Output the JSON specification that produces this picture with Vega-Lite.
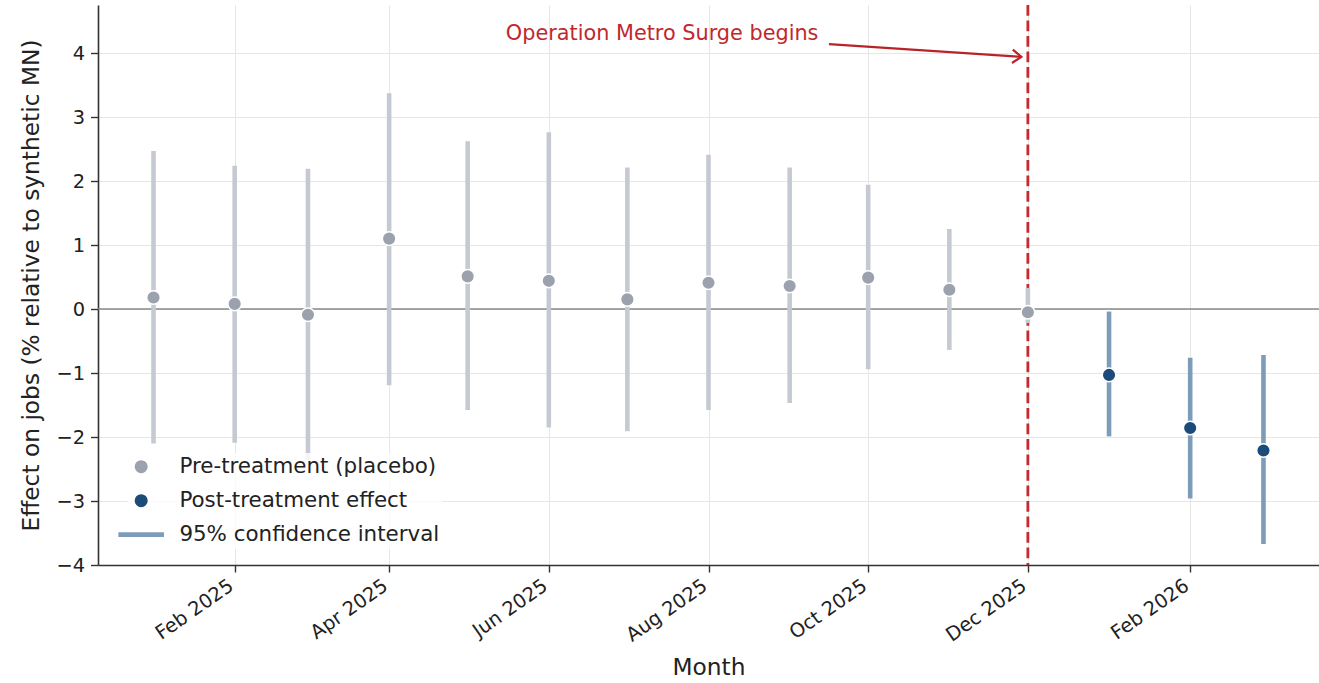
{
  "$schema": "https://vega.github.io/schema/vega-lite/v6.json",
  "autosize": {"type": "none"},
  "padding": {"left": 98, "top": 5, "right": 0, "bottom": 118},
  "width": 1221,
  "height": 560,
  "background": "white",
  "config": {
    "font": "DejaVu Sans",
    "view": {"stroke": null},
    "axis": {
      "labelFont": "DejaVu Sans",
      "titleFont": "DejaVu Sans",
      "labelColor": "#222222",
      "titleColor": "#222222",
      "titleFontWeight": "normal",
      "labelFontSize": 19.4,
      "titleFontSize": 23.3,
      "domainColor": "#333333",
      "domainWidth": 1.6,
      "tickColor": "#333333",
      "tickWidth": 1.4,
      "tickSize": 7,
      "gridColor": "#e6e6e6",
      "gridWidth": 1
    },
    "legend": {
      "orient": "none",
      "legendX": 29.5,
      "legendY": 448,
      "padding": 3,
      "fillColor": "rgba(255,255,255,0.8)",
      "labelFont": "DejaVu Sans",
      "labelFontSize": 21.4,
      "labelColor": "#222222",
      "labelLimit": 500,
      "symbolSize": 170,
      "symbolStrokeWidth": 0,
      "labelOffset": 27.5,
      "rowPadding": 11
    }
  },
  "datasets": {
    "effects": [
      {"month": "2025-01-01", "est": 0.18, "lo": -2.1, "hi": 2.47, "series": "Pre-treatment (placebo)"},
      {"month": "2025-02-01", "est": 0.08, "lo": -2.09, "hi": 2.24, "series": "Pre-treatment (placebo)"},
      {"month": "2025-03-01", "est": -0.09, "lo": -2.35, "hi": 2.19, "series": "Pre-treatment (placebo)"},
      {"month": "2025-04-01", "est": 1.1, "lo": -1.19, "hi": 3.37, "series": "Pre-treatment (placebo)"},
      {"month": "2025-05-01", "est": 0.51, "lo": -1.58, "hi": 2.62, "series": "Pre-treatment (placebo)"},
      {"month": "2025-06-01", "est": 0.44, "lo": -1.85, "hi": 2.76, "series": "Pre-treatment (placebo)"},
      {"month": "2025-07-01", "est": 0.15, "lo": -1.91, "hi": 2.21, "series": "Pre-treatment (placebo)"},
      {"month": "2025-08-01", "est": 0.41, "lo": -1.58, "hi": 2.41, "series": "Pre-treatment (placebo)"},
      {"month": "2025-09-01", "est": 0.36, "lo": -1.47, "hi": 2.21, "series": "Pre-treatment (placebo)"},
      {"month": "2025-10-01", "est": 0.49, "lo": -0.94, "hi": 1.94, "series": "Pre-treatment (placebo)"},
      {"month": "2025-11-01", "est": 0.3, "lo": -0.64, "hi": 1.25, "series": "Pre-treatment (placebo)"},
      {"month": "2025-12-01", "est": -0.05, "lo": -0.22, "hi": 0.33, "series": "Pre-treatment (placebo)"},
      {"month": "2026-01-01", "est": -1.03, "lo": -1.99, "hi": -0.04, "series": "Post-treatment effect"},
      {"month": "2026-02-01", "est": -1.86, "lo": -2.96, "hi": -0.76, "series": "Post-treatment effect"},
      {"month": "2026-03-01", "est": -2.21, "lo": -3.67, "hi": -0.72, "series": "Post-treatment effect"}
    ]
  },
  "encoding": {
    "x": {
      "field": "month",
      "type": "temporal",
      "scale": {
        "type": "utc",
        "domain": [
          {"year": 2024, "month": 12, "date": 10, "hours": 19, "utc": true},
          {"year": 2026, "month": 3, "date": 22, "hours": 5, "utc": true}
        ]
      },
      "axis": {
        "title": "Month",
        "format": "%b %Y",
        "values": [
          {"year": 2025, "month": 2, "date": 1, "utc": true},
          {"year": 2025, "month": 4, "date": 1, "utc": true},
          {"year": 2025, "month": 6, "date": 1, "utc": true},
          {"year": 2025, "month": 8, "date": 1, "utc": true},
          {"year": 2025, "month": 10, "date": 1, "utc": true},
          {"year": 2025, "month": 12, "date": 1, "utc": true},
          {"year": 2026, "month": 2, "date": 1, "utc": true}
        ],
        "grid": true,
        "labelAngle": -35,
        "labelAlign": "right",
        "labelBaseline": "top",
        "labelOffset": -9,
        "labelPadding": 4,
        "titlePadding": 12
      }
    }
  },
  "layer": [
    {
      "data": {"values": [{"v": 0}]},
      "mark": {"type": "rule", "color": "#888888", "strokeWidth": 1.6},
      "encoding": {
        "x": null,
        "y": {
          "field": "v",
          "type": "quantitative",
          "scale": {"domain": [-4, 4.75], "nice": false, "zero": false},
          "axis": {
            "title": "Effect on jobs (% relative to synthetic MN)",
            "values": [-4, -3, -2, -1, 0, 1, 2, 3, 4],
            "format": "d",
            "labelExpr": "replace(datum.label, '-', '\u2212')",
            "grid": true,
            "tickSize": 7.5,
            "labelPadding": 6,
            "titlePadding": 12
          }
        }
      }
    },
    {
      "data": {"values": [{"month": "2025-12-01"}]},
      "mark": {"type": "rule", "color": "#c62a2f", "strokeWidth": 2.8, "strokeDash": [10.8, 4.7]},
      "encoding": {}
    },
    {
      "data": {"name": "effects"},
      "transform": [{"filter": "datum.series === 'Pre-treatment (placebo)'"}],
      "mark": {"type": "rule", "color": "#c5cad2", "strokeWidth": 4.6},
      "encoding": {
        "y": {"field": "lo", "type": "quantitative"},
        "y2": {"field": "hi"}
      }
    },
    {
      "data": {"name": "effects"},
      "transform": [{"filter": "datum.series === 'Post-treatment effect'"}],
      "mark": {"type": "rule", "color": "#7d9cb9", "strokeWidth": 4.6},
      "encoding": {
        "y": {"field": "lo", "type": "quantitative"},
        "y2": {"field": "hi"}
      }
    },
    {
      "data": {"name": "effects"},
      "mark": {"type": "point", "filled": true, "size": 185, "opacity": 1, "stroke": "white", "strokeWidth": 1.5},
      "encoding": {
        "y": {"field": "est", "type": "quantitative"},
        "color": {
          "field": "series",
          "type": "nominal",
          "scale": {
            "domain": ["Pre-treatment (placebo)", "Post-treatment effect", "95% confidence interval"],
            "range": ["#9ca2ad", "#1c4b7a", "#7d9cb9"]
          },
          "legend": {
            "title": null,
            "encode": {
              "symbols": {
                "update": {
                  "fill": {"signal": "scale('color', datum.value)"},
                  "strokeWidth": {"value": 0},
                  "opacity": {"value": 1}
                }
              }
            }
          }
        },
        "shape": {
          "field": "series",
          "type": "nominal",
          "scale": {
            "domain": ["Pre-treatment (placebo)", "Post-treatment effect", "95% confidence interval"],
            "range": ["circle", "circle", "M-3.5,-0.36H3.5V0.36H-3.5Z"]
          },
          "legend": {"title": null}
        }
      }
    },
    {
      "data": {"values": [{"month": "2025-09-12", "y": 4.3, "label": "Operation Metro Surge begins"}]},
      "mark": {"type": "text", "align": "right", "baseline": "middle", "color": "#c0282d", "fontSize": 20.8, "font": "DejaVu Sans"},
      "encoding": {
        "y": {"field": "y", "type": "quantitative"},
        "text": {"field": "label"}
      }
    },
    {
      "data": {"values": [{"month": "2025-09-16T00:00:00Z", "month2": "2025-11-28T12:00:00Z", "y": 4.14, "y2": 3.94}]},
      "mark": {"type": "rule", "color": "#b8232a", "strokeWidth": 2.2},
      "encoding": {
        "x2": {"field": "month2"},
        "y": {"field": "y", "type": "quantitative"},
        "y2": {"field": "y2"}
      }
    },
    {
      "data": {"values": [{"month": "2025-11-28T12:00:00Z", "y": 3.94}]},
      "mark": {"type": "point", "shape": "M-1,-0.75L0,0L-1,0.75", "filled": false, "size": 320, "angle": 3.7, "color": "#b8232a", "strokeWidth": 2.2, "opacity": 1},
      "encoding": {
        "y": {"field": "y", "type": "quantitative"}
      }
    }
  ]
}
